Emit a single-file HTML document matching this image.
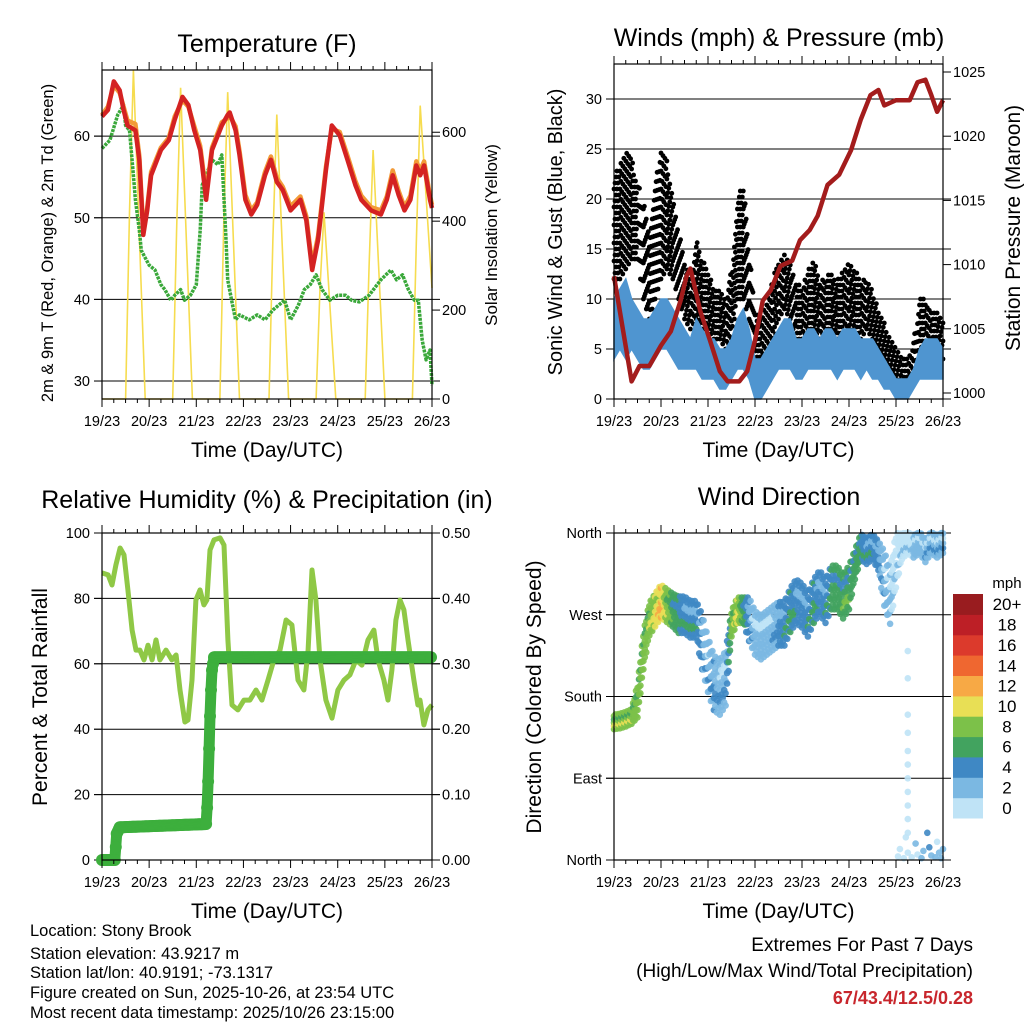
<!DOCTYPE html>
<html><head><meta charset="utf-8"><style>
html,body{margin:0;padding:0;background:#fff;}
svg{display:block;font-family:"Liberation Sans",Arial,sans-serif;}
</style></head><body>
<svg id="c" width="1024" height="1024" viewBox="0 0 1024 1024" xmlns="http://www.w3.org/2000/svg"></svg>
<script>
// ---------- DATA ----------
const dayLabels = ["19/23","20/23","21/23","22/23","23/23","24/23","25/23","26/23"];
const t2Hours = [0,3,6,9,11,13,17,19,21,23,25,30,34,37,41,44,47,50,51,53,56,61,64,65,68,70,73,76,79,81,83,86,89,92,96,101,104,107,110,114,117,121,125,129,132,137,142,145,148,151,154,157,160,162,164,167,168];
const t2Values = [62.4,63.2,66.7,65.6,63.2,61.3,60.7,57.1,47.9,50.9,55.2,58.3,59.5,62,64.8,63.8,60.7,58.3,56.4,52.2,58.3,61.3,62.6,62.9,60.7,57.7,52.2,50.4,51.6,53.4,55.2,57.1,54.4,53.4,50.9,52.2,49.7,43.6,47.3,55.8,61.3,60.1,57.1,54,52.2,50.9,50.4,52.2,55.2,52.8,50.9,52.2,56.4,55.2,56.4,52.2,51.2];
const t9Values = [62.6,63.6,66.2,65.3,63.6,61.9,61.5,57.6,48.5,51.2,55.6,58.6,59.8,62.4,64.4,63.6,61.2,58.8,56.9,52.8,58.6,61.7,62.2,62.5,61.2,58.2,52.8,50.9,51.9,53.8,55.6,57.5,54.9,53.8,51.4,52.6,50.2,44.2,47.8,56.2,60.9,60.5,57.6,54.5,52.7,51.3,50.9,52.6,55.8,53.3,51.3,52.7,56.9,55.8,56.9,52.7,51.6];
const tdHours = [0,4,8,11,12,14,16,17,19,20,22,24,27,30,32,35,37,40,42,45,48,50,51,53,56,59,61,63,64,66,68,70,75,79,83,87,90,93,96,100,103,106,109,112,116,120,124,127,131,136,142,147,150,153,156,159,161,163,165,167,168];
const tdValues = [58.5,59.5,62.6,63.8,61.3,60.7,55.2,52.2,48.5,46,45.1,44.2,43.6,41.8,41.2,39.9,40.5,41.2,39.9,40.5,41.8,48.5,54,55.2,57.1,56.5,57.7,47.9,42.4,39.9,37.5,38.1,37.5,38.1,37.5,38.7,39.3,39.9,37.5,39.3,41.2,41.8,43,41.2,39.9,40.5,40.5,39.9,39.7,40.5,42.4,43.6,42.4,43,41.2,39.9,39.9,35,32.6,33.8,29.5];
const solarHours = [0,12,14,16,22,36,38,40,46,60,62,64,70,85,87,89,95,109,111,113,119,134,136,138,144,158,160,162,168];
const solarValues = [0,0,420,740,0,0,380,700,0,0,400,690,0,0,360,640,0,0,250,420,0,0,300,560,0,0,350,660,250];
const windLow  = [4,5,4,5,4,3,3,4,5,5,4,3,3,3,3,2,2,2,1,1,2,3,3,2,0,0,1,2,3,3,3,2,2,3,3,3,3,3,2,3,3,3,2,3,2,2,1,1,0,0,0,1,2,2,2,2,2];
const windHigh = [10,11,12,10,9,8,8,9,10,10,9,8,7,6,8,7,6,6,5,5,6,8,9,7,4,4,5,6,7,8,8,6,6,7,7,6,7,7,6,7,7,7,6,6,6,5,4,3,2,2,2,3,5,6,6,6,5];
const gustLow  = [12,12,13,14,14,10,8,10,12,13,12,10,8,7,8,7,7,6,6,5,6,10,10,8,3,3,4,5,8,9,8,6,6,7,7,6,7,7,6,6,7,6,6,7,6,5,4,3,2,1,1,2,4,4,5,5,4];
const gustHigh = [22,24,25,24,22,20,17,22,25,24,20,17,14,12,16,14,13,11,11,10,13,20,22,15,9,8,10,12,14,15,14,12,11,13,14,12,12,13,12,13,14,13,12,12,11,9,8,6,5,4,4,6,10,10,9,9,8];
const presHours = [0,9,13,18,24,29,34,37,39,44,49,54,58,64,68,72,76,80,85,91,95,100,104,109,115,121,126,131,135,138,144,151,155,159,162,165,168];
const presValues = [1009.1,1000.9,1002.1,1002.1,1003.7,1004.8,1007.2,1009.1,1009.7,1006.4,1004.1,1001.7,1000.9,1000.9,1001.7,1004.1,1007.2,1008,1009.9,1010.3,1011.9,1012.7,1013.8,1016.2,1017,1018.9,1021.3,1023.2,1023.6,1022.4,1022.8,1022.8,1024.2,1024.4,1023.2,1021.9,1022.8];
const rhHours = [0,3.1,5.1,7.1,9.2,11.2,13.2,15.3,17.3,19.3,21.4,23.4,25.5,27.5,29.5,32.6,35.6,37.7,39.7,42.2,43.8,45.8,47.8,49.9,51.9,53.4,55,57,60.1,62.1,64.1,66.2,69.2,72.3,75.3,78.4,81.4,84.5,87.5,90.6,93.7,96.7,99.8,102.8,104.9,106.9,108.9,111,114,117.1,120.1,123.2,126.2,129.3,132.3,135.4,138.4,140.5,143.5,145.6,147.6,149.6,151.7,153.7,155.8,158.8,160.8,161.9,163.9,165.9,168];
const rhValues = [87.8,87.2,84.1,90.2,95.4,93.3,82.6,70.3,64.2,64.2,61.2,65.7,61.2,67.3,61.2,64.2,61.2,62.7,52,42.2,42.8,55,79.5,82.6,78,79.5,94.8,97.9,98.5,96.3,67.3,47.4,45.9,48.9,48.9,52,48.9,55,61.2,64.2,73.4,71.9,55,52,64.2,88.7,79.5,61.2,48.9,43.4,52,55,56.6,61.2,59.6,67.3,70.3,61.2,55,48.9,58.1,73.4,79.5,76.5,67.3,55,47.4,48.9,41.3,45.9,47.4];
const precipHours = [0,6.5,7.5,9,53,53.5,54,54.5,55,55.5,56,57,168];
const precipValues = [0,0,0.04,0.05,0.055,0.08,0.12,0.17,0.22,0.26,0.29,0.31,0.31];
const dirCenter = [152,153,155,158,175,230,265,275,285,280,275,270,270,265,265,240,215,195,190,200,260,275,275,265,250,245,250,255,260,260,275,285,280,270,285,295,285,300,300,290,300,325,345,340,345,335,310,290,330,345,350,345,350,340,350,345,350];
const dirSpread = [8,8,8,8,18,20,18,18,18,18,18,20,20,20,20,30,30,30,30,30,14,14,14,24,24,24,24,24,24,24,24,24,24,24,24,24,24,24,24,24,24,16,14,14,14,16,30,30,30,14,12,12,12,12,12,12,12];
const dirSpeed = [9,9,9,9,8,8,9,10,12,9,7,6,5,5,5,4,3,4,3,3,8,10,7,4,2,2,2,3,4,5,6,5,4,5,6,4,5,6,6,7,7,6,6,5,5,4,3,2,1,1,1,2,2,3,3,3,3];
const northHours = [145,146,148,149,150,152,154,155,157,158,160,161,162,164,165,166,167,168];
const northDirs = [4,12,2,25,8,3,18,6,2,10,30,14,5,3,20,8,2,12];
const northSpeed = [1,1,1,1,1,1,2,1,3,3,4,4,3,2,1,2,3,2];
const streakDirs = [30,45,60,75,90,105,120,140,160,200,230];
const speedLabels = ["0","2","4","6","8","10","12","14","16","18","20+"];
const speedColors = ["#bfe3f6","#7bb8e2","#3f88c4","#42a35f","#7cc149","#e8df55","#f7a945","#ef6730","#dc3a2c","#bd1f26","#991c1f"];

// ---------- HELPERS ----------
const NS = "http://www.w3.org/2000/svg";
const svg = document.getElementById("c");
function mk(tag, attrs, parent){ const e = document.createElementNS(NS, tag); for (const k in attrs) e.setAttribute(k, attrs[k]); (parent||svg).appendChild(e); return e; }
function lin(d0,d1,r0,r1){ return v => r0 + (v-d0)*(r1-r0)/(d1-d0); }
function txt(x,y,s,size,anchor,parent,extra){ const t = mk("text",Object.assign({x:x,y:y,"font-size":size,"text-anchor":anchor||"middle",fill:"#000"},extra||{}),parent); t.textContent = s; return t; }
function interp(hs, vs, h){ if(h<=hs[0]) return vs[0]; for(let i=1;i<hs.length;i++){ if(h<=hs[i]){ const f=(h-hs[i-1])/(hs[i]-hs[i-1]); return vs[i-1]+f*(vs[i]-vs[i-1]); } } return vs[vs.length-1]; }
function sampleAt(arr, h){ const i = h/3; const i0=Math.min(arr.length-1,Math.floor(i)), i1=Math.min(arr.length-1,i0+1); const f=i-i0; return arr[i0]+f*(arr[i1]-arr[i0]); }
function path(hs, vs, xf, yf){ return hs.map((h,i)=>(i?"L":"M")+xf(h).toFixed(1)+","+yf(vs[i]).toFixed(1)).join(" "); }

function frame(g, x0,y0,x1,y1, xf, name){
  mk("rect",{x:x0,y:y0,width:x1-x0,height:y1-y0,fill:"none",stroke:"#000","stroke-width":1.2},g);
  for(let d=0; d<=7; d++){
    const x = xf(d*24);
    mk("line",{x1:x,y1:y0,x2:x,y2:y0-8,stroke:"#000","stroke-width":1},g);
    mk("line",{x1:x,y1:y1,x2:x,y2:y1+8,stroke:"#000","stroke-width":1},g);
    const t = txt(x, y1+27, dayLabels[d], 14.5, "middle", g);
    
    
  }
  for(let h=6; h<168; h+=6){ if(h%24===0) continue; const x=xf(h);
    mk("line",{x1:x,y1:y0,x2:x,y2:y0-4,stroke:"#000","stroke-width":1},g);
    mk("line",{x1:x,y1:y1,x2:x,y2:y1+4,stroke:"#000","stroke-width":1},g); }
  const tt = txt((x0+x1)/2, y1+58, "Time (Day/UTC)", 21, "middle", g);
  
  
}
function yticks(g, vals, labels, yf, x0, x1, side, grid, name){
  vals.forEach((v,i)=>{ const y=yf(v);
    if(grid) mk("line",{x1:x0-8,y1:y,x2:x1+8,y2:y,stroke:"#000","stroke-width":1},g);
    if(side==="left"){ mk("line",{x1:x0-8,y1:y,x2:x0,y2:y,stroke:"#000"},g);
      const t=txt(x0-12,y+5,labels[i],14.5,"end",g);   }
    else { mk("line",{x1:x1,y1:y,x2:x1+8,y2:y,stroke:"#000"},g);
      const t=txt(x1+10,y+5,labels[i],14.5,"start",g);   }
  });
}
function vtitle(g,x,y,s,size,name){ const t=txt(0,0,s,size,"middle",g,{transform:"translate("+x+","+y+") rotate(-90)"});   return t; }
function title(g,x,y,s,name){ const t=txt(x,y,s,25,"middle",g);   }

// ---------- PANEL 1: TEMPERATURE ----------
{
const g = mk("g",{});


const X = lin(0,168,102,432), Y = lin(27.8,68.1,399,70), S = lin(0,740,399,70);
title(g,267,52,"Temperature (F)","temperature-title");
yticks(g,[30,40,50,60],["30","40","50","60"],Y,102,432,"left",true,"temp-y");
yticks(g,[0,200,400,600],["0","200","400","600"],S,102,432,"right",false,"solar-y");
const sol = mk("path",{d:path(solarHours,solarValues,X,S),fill:"none",stroke:"#f6dc4f","stroke-width":1.6},g);


const td = mk("path",{d:path(tdHours,tdValues,X,Y),fill:"none",stroke:"#3aa83a","stroke-width":3.5,"stroke-dasharray":"3 1","stroke-linejoin":"round"},g);


const t9 = mk("path",{d:path(t2Hours,t9Values,X,Y),fill:"none",stroke:"#f29a38","stroke-width":4.5,"stroke-linejoin":"round"},g);


const t2 = mk("path",{d:path(t2Hours,t2Values,X,Y),fill:"none",stroke:"#d42222","stroke-width":4.5,"stroke-linejoin":"round"},g);


frame(g,102,70,432,399,X,"temp");
vtitle(g,53,243,"2m & 9m T (Red, Orange) & 2m Td (Green)",16.5,"temp-y-axis-title");
vtitle(g,497,235,"Solar Insolation (Yellow)",17,"solar-y-axis-title");
}

// ---------- PANEL 2: WINDS ----------
{
const g = mk("g",{});


const X = lin(0,168,614,943), Y = lin(0,33.5,399,64), P = lin(1000,1025,393,72);
title(g,779,46,"Winds (mph) & Pressure (mb)","winds-title");
yticks(g,[0,5,10,15,20,25,30],["0","5","10","15","20","25","30"],Y,614,943,"left",true,"wind-y");
yticks(g,[1000,1005,1010,1015,1020,1025],["1000","1005","1010","1015","1020","1025"],P,614,943,"right",false,"pressure-y");
const gg = mk("g",{fill:"#000"},g);


let k=0;
for(let h=0; h<=168; h+=0.5){
  const lo = sampleAt(gustLow,h), hi = sampleAt(gustHigh,h);
  const off = (k%3)*0.6; k++;
  for(let v=lo+off; v<=hi; v+=1.8){ mk("circle",{cx:X(h).toFixed(1),cy:Y(v).toFixed(1),r:2.4},gg); }
}
let up=[], dn=[];
for(let i=0;i<windLow.length;i++){ up.push(X(i*3).toFixed(1)+","+Y(windHigh[i]).toFixed(1)); dn.unshift(X(i*3).toFixed(1)+","+Y(windLow[i]).toFixed(1)); }
const wb = mk("polygon",{points:up.concat(dn).join(" "),fill:"#4f95d0",stroke:"#4f95d0","stroke-width":1.5},g);


const pr = mk("path",{d:path(presHours,presValues,X,P),fill:"none",stroke:"#a31c1c","stroke-width":4.5,"stroke-linejoin":"round"},g);


frame(g,614,64,943,399,X,"winds");
vtitle(g,562,232,"Sonic Wind & Gust (Blue, Black)",20,"wind-y-axis-title");
vtitle(g,1020,228,"Station Pressure (Maroon)",21,"pressure-y-axis-title");
}

// ---------- PANEL 3: RH & PRECIP ----------
{
const g = mk("g",{});


const X = lin(0,168,102,432), Y = lin(0,100,860,533), R = lin(0,0.5,860,533);
title(g,267,508,"Relative Humidity (%) & Precipitation (in)","humidity-title");
yticks(g,[0,20,40,60,80,100],["0","20","40","60","80","100"],Y,102,432,"left",true,"rh-y");
yticks(g,[0,0.1,0.2,0.3,0.4,0.5],["0.00","0.10","0.20","0.30","0.40","0.50"],R,102,432,"right",false,"precip-y");
const rh = mk("path",{d:path(rhHours,rhValues,X,Y),fill:"none",stroke:"#8fc846","stroke-width":5,"stroke-linejoin":"round"},g);


const pl = mk("path",{d:path(precipHours,precipValues,X,R),fill:"none",stroke:"#3daf3d","stroke-width":11,"stroke-linejoin":"round"},g);


const pg = mk("g",{fill:"#3daf3d"},g);


for(let i=0;i<precipHours.length-1;i++){ const n = Math.max(1,Math.round((precipHours[i+1]-precipHours[i])*2));
  for(let j=0;j<n;j++){ const h = precipHours[i]+(precipHours[i+1]-precipHours[i])*j/n;
    mk("circle",{cx:X(h).toFixed(1),cy:R(interp(precipHours,precipValues,h)).toFixed(1),r:6},pg); } }
frame(g,102,533,432,860,X,"humidity");
vtitle(g,47,697,"Percent & Total Rainfall",21,"rh-y-axis-title");
}

// ---------- PANEL 4: WIND DIRECTION ----------
{
const g = mk("g",{});


const X = lin(0,168,614,943), D = lin(0,360,860,533);
title(g,779,505,"Wind Direction","wind-direction-title");
yticks(g,[0,90,180,270,360],["North","East","South","West","North"],D,614,943,"left",true,"direction-y");
const dg = mk("g",{"fill-opacity":0.9},g);


function col(s){ return speedColors[Math.min(10,Math.floor(s/2))]; }
const offsA=[-1,-0.55,-0.1,0.35,0.8], offsB=[-0.8,-0.35,0.1,0.55,1];
let q=0;
for(let h=0; h<=168; h+=0.75){
  const c = sampleAt(dirCenter,h), s = sampleAt(dirSpread,h), sp = sampleAt(dirSpeed,h);
  const offs = (q%2)?offsB:offsA; q++;
  offs.forEach((o,j)=>{ const spd = sp + (j===1?1.2:(j===3?-1.2:0));
    mk("circle",{cx:X(h).toFixed(1),cy:D(Math.min(360,c+o*s)).toFixed(1),r:3.3,fill:col(Math.max(0,spd))},dg); });
}
northHours.forEach((h,i)=>{ mk("circle",{cx:X(h).toFixed(1),cy:D(northDirs[i]).toFixed(1),r:3.3,fill:col(northSpeed[i])},dg); });
streakDirs.forEach(d=>{ mk("circle",{cx:X(150).toFixed(1),cy:D(d).toFixed(1),r:3.3,fill:speedColors[0]},dg); });
frame(g,614,533,943,860,X,"direction");
vtitle(g,541,697,"Direction (Colored By Speed)",21,"direction-y-axis-title");
const cb = mk("g",{},g);


const bh = (818-594)/speedColors.length;
speedColors.forEach((c,i)=>{ const y = 818-(i+1)*bh;
  mk("rect",{x:953,y:y.toFixed(1),width:30,height:(bh+0.5).toFixed(1),fill:c},cb);
  const t = txt(1007,y+bh/2+6,speedLabels[i],17,"middle",cb);
  
   });
const mu = txt(1007,588,"mph",15,"middle",cb);


}

// ---------- FOOTER ----------
{
const g = mk("g",{});


const lines = ["Location: Stony Brook","Station elevation: 43.9217 m","Station lat/lon: 40.9191; -73.1317","Figure created on Sun, 2025-10-26, at 23:54 UTC","Most recent data timestamp: 2025/10/26 23:15:00"];
const ys = [936,959,978,998,1018];
lines.forEach((s,i)=>{ const t = txt(30,ys[i],s,16.5,"start",g);   });
const e1 = txt(973,951,"Extremes For Past 7 Days",19,"end",g);


const e2 = txt(973,977,"(High/Low/Max Wind/Total Precipitation)",19,"end",g);


const e3 = txt(973,1004,"67/43.4/12.5/0.28",18,"end",g,{fill:"#c8262c","font-weight":"bold"});


}
</script>
</body></html>
